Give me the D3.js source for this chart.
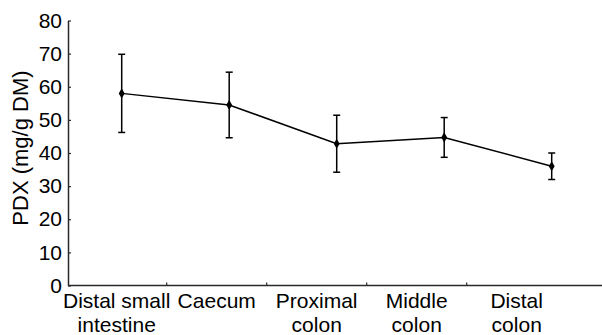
<!DOCTYPE html>
<html><head><meta charset="utf-8">
<script src="https://cdn.jsdelivr.net/npm/d3@7"></script>
<style>
html,body{margin:0;padding:0;background:#fff;}
svg{display:block;font-family:"Liberation Sans",Arial,Helvetica,sans-serif;}
</style></head>
<body><svg id="c" width="602" height="335"></svg>
<script>
const categories = ["Distal small|intestine","Caecum","Proximal|colon","Middle|colon","Distal|colon"];
const means = [58.0, 54.5, 42.8, 44.7, 36.0];
const errs = [11.8, 9.9, 8.6, 6.0, 4.0];
const yTicks = [0,10,20,30,40,50,60,70,80];
const yLabel = "PDX (mg/g DM)";

const svg = d3.select("#c");
const x0 = 68, xEnd = 602, yTop = 20.5, yBot = 285.5;
const y = d3.scaleLinear().domain([0,80]).range([yBot, yTop]);
const band = d3.scaleBand().domain(categories).range([66.7, 566.7]);
const xp = d3.scalePoint().domain(categories).range([121.7, 551.7]);
const fs = 21;
const axisCol = "#2a2a2a";

// y axis
const ya = svg.append("g").attr("transform", `translate(${x0},0)`)
  .call(d3.axisLeft(y).tickValues(yTicks).tickSizeInner(-3).tickSizeOuter(0).tickPadding(6));
ya.select(".domain").attr("stroke", axisCol).attr("stroke-width", 1.5);
ya.selectAll(".tick line").attr("stroke", axisCol).attr("stroke-width", 1.2);
ya.selectAll(".tick text").attr("font-size", fs).attr("fill", "#000").attr("font-family", "Liberation Sans, Arial, sans-serif");

// x axis line
svg.append("line").attr("x1", x0).attr("x2", xEnd).attr("y1", yBot).attr("y2", yBot)
  .attr("stroke", axisCol).attr("stroke-width", 1.5);
// x ticks at band boundaries
svg.selectAll(".xt").data(categories.slice(1)).enter().append("line")
  .attr("x1", d => band(d)).attr("x2", d => band(d))
  .attr("y1", yBot).attr("y2", yBot - 3)
  .attr("stroke", axisCol).attr("stroke-width", 1.2);
// x labels
const lab = svg.selectAll(".xl").data(categories).enter().append("text")
  .attr("text-anchor", "middle").attr("font-size", fs).attr("fill", "#000")
  .attr("transform", d => `translate(${band(d) + band.bandwidth()/2},${yBot + 22})`);
lab.each(function(d){
  const parts = d.split("|");
  const t = d3.select(this);
  parts.forEach((p,i) => t.append("tspan").attr("x", 0).attr("y", i*24).text(p));
});

// y label
svg.append("text").attr("text-anchor", "middle").attr("font-size", 22).attr("fill", "#000")
  .attr("transform", `translate(${27.5},${148}) rotate(-90)`)
  .text(yLabel);

// error bars
const data = categories.map((c,i) => ({c, m: means[i], e: errs[i]}));
const eb = svg.append("g").attr("stroke", "#000").attr("stroke-width", 1.5);
data.forEach(d => {
  const cx = xp(d.c);
  eb.append("line").attr("x1", cx).attr("x2", cx).attr("y1", y(d.m + d.e)).attr("y2", y(d.m - d.e));
  eb.append("line").attr("x1", cx-3.5).attr("x2", cx+3.5).attr("y1", y(d.m + d.e)).attr("y2", y(d.m + d.e));
  eb.append("line").attr("x1", cx-3.5).attr("x2", cx+3.5).attr("y1", y(d.m - d.e)).attr("y2", y(d.m - d.e));
});
// line
svg.append("path").datum(data)
  .attr("d", d3.line().x(d => xp(d.c)).y(d => y(d.m)))
  .attr("fill", "none").attr("stroke", "#000").attr("stroke-width", 1.5);
// points
svg.selectAll(".pt").data(data).enter().append("path")
  .attr("d", d3.symbol().type(d3.symbolDiamond).size(30))
  .attr("transform", d => `translate(${xp(d.c)},${y(d.m)})`)
  .attr("fill", "#000");
</script></body></html>
